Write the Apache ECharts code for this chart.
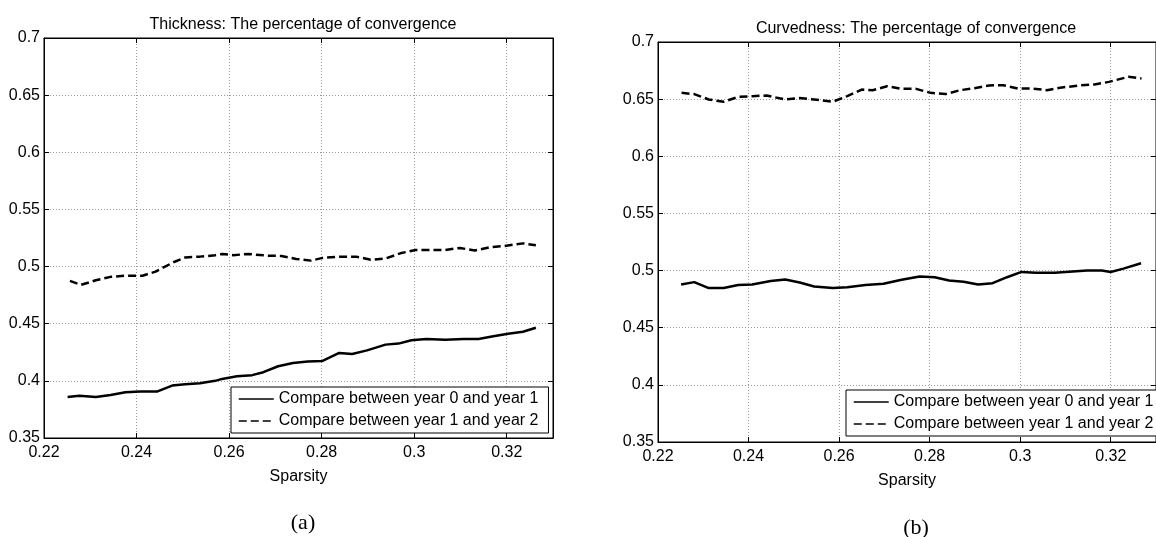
<!DOCTYPE html>
<html>
<head>
<meta charset="utf-8">
<script src="https://cdn.jsdelivr.net/npm/echarts@6/dist/echarts.min.js"></script>
<style>
  html, body { margin: 0; padding: 0; background: #fff; overflow: hidden; }
  #chart { width: 1156px; height: 537px; }
</style>
</head>
<body>
<div id="chart"></div>
<script>
// Sparsity sample points and convergence percentages
const thickX01 = [0.2251,0.2276,0.2312,0.2344,0.2376,0.2408,0.2444,0.2477,0.2505,0.2537,0.2570,0.2585,0.2617,0.2650,0.2674,0.2706,0.2738,0.2770,0.2802,0.2838,0.2866,0.2898,0.2938,0.2966,0.2994,0.3026,0.3067,0.3107,0.3139,0.3171,0.3203,0.3235,0.3263];
const thickY01 = [0.3859,0.3870,0.3859,0.3876,0.3900,0.3906,0.3906,0.3959,0.3970,0.3980,0.4000,0.4017,0.4040,0.4050,0.4076,0.4128,0.4157,0.4169,0.4174,0.4244,0.4235,0.4267,0.4317,0.4326,0.4355,0.4366,0.4360,0.4366,0.4366,0.4390,0.4413,0.4430,0.4465];

const thickX12 = [0.2256,0.2280,0.2312,0.2344,0.2376,0.2413,0.2441,0.2481,0.2505,0.2537,0.2570,0.2585,0.2609,0.2641,0.2681,0.2713,0.2745,0.2777,0.2802,0.2842,0.2874,0.2906,0.2938,0.2970,0.3003,0.3035,0.3067,0.3099,0.3131,0.3163,0.3195,0.3235,0.3263];
const thickY12 = [0.4875,0.4840,0.4880,0.4910,0.4920,0.4920,0.4956,0.5040,0.5080,0.5087,0.5099,0.5110,0.5100,0.5110,0.5096,0.5093,0.5067,0.5052,0.5076,0.5087,0.5087,0.5060,0.5070,0.5116,0.5145,0.5145,0.5145,0.5163,0.5140,0.5169,0.5180,0.5203,0.5186];

const curvX01 = [0.2251,0.2280,0.2312,0.2345,0.2377,0.2408,0.2449,0.2481,0.2513,0.2545,0.2586,0.2618,0.2658,0.2698,0.2738,0.2778,0.2811,0.2843,0.2875,0.2907,0.2939,0.2971,0.3003,0.3035,0.3076,0.3116,0.3148,0.3180,0.3200,0.3228,0.3267];
const curvY01 = [0.4879,0.4899,0.4847,0.4847,0.4873,0.4879,0.4908,0.4922,0.4896,0.4861,0.4847,0.4855,0.4873,0.4884,0.4919,0.4948,0.4942,0.4913,0.4902,0.4879,0.4890,0.4942,0.4988,0.4980,0.4980,0.4991,0.5000,0.5000,0.4988,0.5017,0.5064];

const curvX12 = [0.2252,0.2280,0.2312,0.2345,0.2377,0.2408,0.2440,0.2481,0.2513,0.2545,0.2586,0.2618,0.2650,0.2674,0.2706,0.2737,0.2770,0.2802,0.2835,0.2867,0.2899,0.2931,0.2963,0.2995,0.3027,0.3059,0.3092,0.3132,0.3164,0.3196,0.3239,0.3268];
const curvY12 = [0.6555,0.6544,0.6497,0.6477,0.6520,0.6526,0.6532,0.6497,0.6509,0.6497,0.6477,0.6526,0.6584,0.6578,0.6613,0.6590,0.6590,0.6555,0.6544,0.6578,0.6596,0.6620,0.6622,0.6593,0.6593,0.6578,0.6602,0.6620,0.6628,0.6651,0.6695,0.6681];

const seriesNames = ['Compare between year 0 and year 1', 'Compare between year 1 and year 2'];
const panelTitles = ['Thickness: The percentage of convergence', 'Curvedness: The percentage of convergence'];
const panelTags = ['(a)', '(b)'];
const xName = 'Sparsity';

const FONT = '"Liberation Sans", Arial, Helvetica, sans-serif';
const SERIF = '"Liberation Serif", "Times New Roman", serif';

function zip(xs, ys) { return xs.map((x, i) => [x, ys[i]]); }

const gridBoxes = [
  { left: 44, top: 38, width: 509, height: 400 },
  { left: 658, top: 42, width: 506, height: 400 }
];

const dotted = { show: true, lineStyle: { color: '#9a9a9a', width: 1, type: [1, 2] } };
const blackLine = { show: true, onZero: false, lineStyle: { color: '#000', width: 1 } };

function xMain(g) {
  return {
    type: 'value', gridIndex: g, min: 0.22, max: 0.33, interval: 0.02,
    name: xName, nameLocation: 'middle', nameGap: 31,
    nameTextStyle: { fontFamily: FONT, fontSize: 16, color: '#000' },
    axisLine: blackLine,
    axisTick: { show: true, inside: true, length: 5, lineStyle: { color: '#000' } },
    axisLabel: { fontFamily: FONT, fontSize: 16, color: '#000', margin: 7, showMaxLabel: false },
    splitLine: dotted
  };
}
function xTop(g) {
  return {
    type: 'value', gridIndex: g, position: 'top', min: 0.22, max: 0.33, interval: 0.02,
    axisLine: blackLine,
    axisTick: { show: true, inside: true, length: 5, lineStyle: { color: '#000' } },
    axisLabel: { show: false }, splitLine: { show: false }
  };
}
function yMain(g) {
  return {
    type: 'value', gridIndex: g, min: 0.35, max: 0.7, interval: 0.05,
    axisLine: blackLine,
    axisTick: { show: true, inside: true, length: 5, lineStyle: { color: '#000' } },
    axisLabel: { fontFamily: FONT, fontSize: 16, color: '#000', margin: 4 },
    splitLine: dotted
  };
}
function yRight(g) {
  return {
    type: 'value', gridIndex: g, position: 'right', min: 0.35, max: 0.7, interval: 0.05,
    axisLine: blackLine,
    axisTick: { show: true, inside: true, length: 5, lineStyle: { color: '#000' } },
    axisLabel: { show: false }, splitLine: { show: false }
  };
}

function lineSeries(name, g, data, dashed) {
  return {
    type: 'line', name: name, xAxisIndex: g, yAxisIndex: g, data: data,
    symbol: 'none', smooth: false, z: 5,
    lineStyle: { color: '#000', width: 2.5, type: dashed ? [8, 4] : 'solid' },
    itemStyle: { color: '#000' },
    emphasis: { disabled: true }
  };
}

function legendAt(left, top) {
  return {
    left: left, top: top, orient: 'vertical',
    data: seriesNames,
    backgroundColor: '#fff', borderColor: '#000', borderWidth: 1,
    padding: [3, 10, 3, 7], itemGap: 4, itemWidth: 35, itemHeight: 14,
    itemStyle: { opacity: 0 },
    lineStyle: { width: 1.5 },
    textStyle: { fontFamily: FONT, fontSize: 16, color: '#000', lineHeight: 18 },
    selectedMode: false
  };
}

const option = {
  backgroundColor: '#fff',
  animation: false,
  title: [
    { text: panelTitles[0], left: 298, top: 12, textAlign: 'center',
      textStyle: { fontFamily: FONT, fontSize: 16, fontWeight: 'normal', color: '#000' } },
    { text: panelTitles[1], left: 911, top: 16, textAlign: 'center',
      textStyle: { fontFamily: FONT, fontSize: 16, fontWeight: 'normal', color: '#000' } },
    { text: panelTags[0], left: 298, top: 507, textAlign: 'center',
      textStyle: { fontFamily: SERIF, fontSize: 22, fontWeight: 'normal', color: '#000' } },
    { text: panelTags[1], left: 911, top: 512, textAlign: 'center',
      textStyle: { fontFamily: SERIF, fontSize: 22, fontWeight: 'normal', color: '#000' } }
  ],
  grid: gridBoxes.map(b => Object.assign({ show: true, borderColor: '#000', borderWidth: 1, backgroundColor: '#fff' }, b)),
  xAxis: [xMain(0), xMain(1), xTop(0), xTop(1)],
  yAxis: [yMain(0), yMain(1), yRight(0), yRight(1)],
  legend: [legendAt(231, 387), legendAt(846, 390)],
  series: [
    lineSeries(seriesNames[0], 0, zip(thickX01, thickY01), false),
    lineSeries(seriesNames[1], 0, zip(thickX12, thickY12), true),
    lineSeries(seriesNames[0], 1, zip(curvX01, curvY01), false),
    lineSeries(seriesNames[1], 1, zip(curvX12, curvY12), true)
  ]
};

const chart = echarts.init(document.getElementById('chart'), null, { renderer: 'canvas' });
chart.setOption(option);
</script>
</body>
</html>
